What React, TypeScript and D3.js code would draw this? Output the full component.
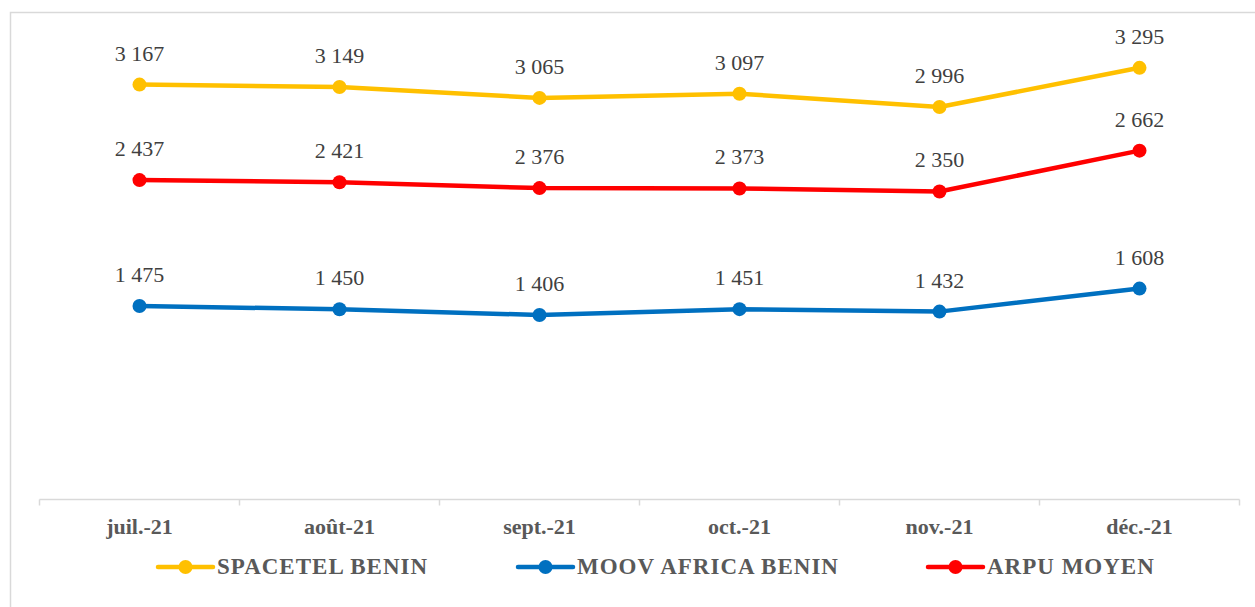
import * as d3 from "d3";

const MONTHS = ["juil.-21", "août-21", "sept.-21", "oct.-21", "nov.-21", "déc.-21"];
const SPACETEL = [3167, 3149, 3065, 3097, 2996, 3295];
const MOOV = [1475, 1450, 1406, 1451, 1432, 1608];
const ARPU = [2437, 2421, 2376, 2373, 2350, 2662];

const SERIES = [
  { name: "SPACETEL BENIN", values: SPACETEL, color: "#FFC000" },
  { name: "MOOV AFRICA BENIN", values: MOOV, color: "#0070C0" },
  { name: "ARPU MOYEN", values: ARPU, color: "#FF0000" },
];

const W = 1255;
const H = 607;
const FONT = "Liberation Serif";
const COLOR_TEXT = "#404040";
const COLOR_AXIS_TEXT = "#595959";
const COLOR_AXIS = "#d9d9d9";
const LEGEND_X = [158, 518, 928];

const fmt = (v: number) => d3.format(",")(v).replace(/,/g, " ");

const x = d3.scaleBand<string>().domain(MONTHS).range([39.5, 1239.5]);
const y = d3.scaleLinear().domain([0, 3500]).range([499, 41]);
const cx = (m: string) => (x(m) ?? 0) + x.bandwidth() / 2;

const line = d3.line<number>()
  .x((_, i) => cx(MONTHS[i]))
  .y((d) => y(d));

export default function App() {
  const tickXs = [...MONTHS.map((m) => x(m) ?? 0), 1239.5];
  return (
    <svg
      width={W}
      height={H}
      fontFamily={FONT}
      style={{ position: "absolute", left: 0, top: 0, fontFamily: FONT }}
    >
      {/* outer frame */}
      <rect x={10.5} y={12.5} width={W} height={H} fill="#fff" stroke={COLOR_AXIS} strokeWidth={1.5} />

      {/* x axis */}
      <g transform="translate(0,499.5)">
        <line x1={39.5} x2={1239.5} stroke={COLOR_AXIS} strokeWidth={1.5} />
        {tickXs.map((t) => (
          <line key={t} x1={t} x2={t} y1={0} y2={6} stroke={COLOR_AXIS} strokeWidth={1.5} />
        ))}
        {MONTHS.map((m) => (
          <text key={m} x={cx(m)} y={34} textAnchor="middle" fontFamily={FONT}
            fontWeight="bold" fontSize={22} fill={COLOR_AXIS_TEXT}>
            {m}
          </text>
        ))}
      </g>

      {/* series */}
      {SERIES.map((s) => (
        <g key={s.name}>
          <path d={line(s.values) ?? ""} fill="none" stroke={s.color} strokeWidth={4.5}
            strokeLinejoin="round" strokeLinecap="round" />
          {s.values.map((v, i) => (
            <g key={i}>
              <circle cx={cx(MONTHS[i])} cy={y(v)} r={7} fill={s.color} />
              <text x={cx(MONTHS[i])} y={y(v) - 24} textAnchor="middle" fontFamily={FONT}
                fontSize={22} fill={COLOR_TEXT}>
                {fmt(v)}
              </text>
            </g>
          ))}
        </g>
      ))}

      {/* legend */}
      {SERIES.map((s, i) => (
        <g key={s.name} transform={`translate(${LEGEND_X[i]},567)`}>
          <line x1={0} x2={55} stroke={s.color} strokeWidth={4.5} strokeLinecap="round" />
          <circle cx={27.5} r={7} fill={s.color} />
          <text x={59} y={7} fontFamily={FONT} fontWeight="bold" fontSize={23}
            letterSpacing={1} fill={COLOR_AXIS_TEXT}>
            {s.name}
          </text>
        </g>
      ))}
    </svg>
  );
}
